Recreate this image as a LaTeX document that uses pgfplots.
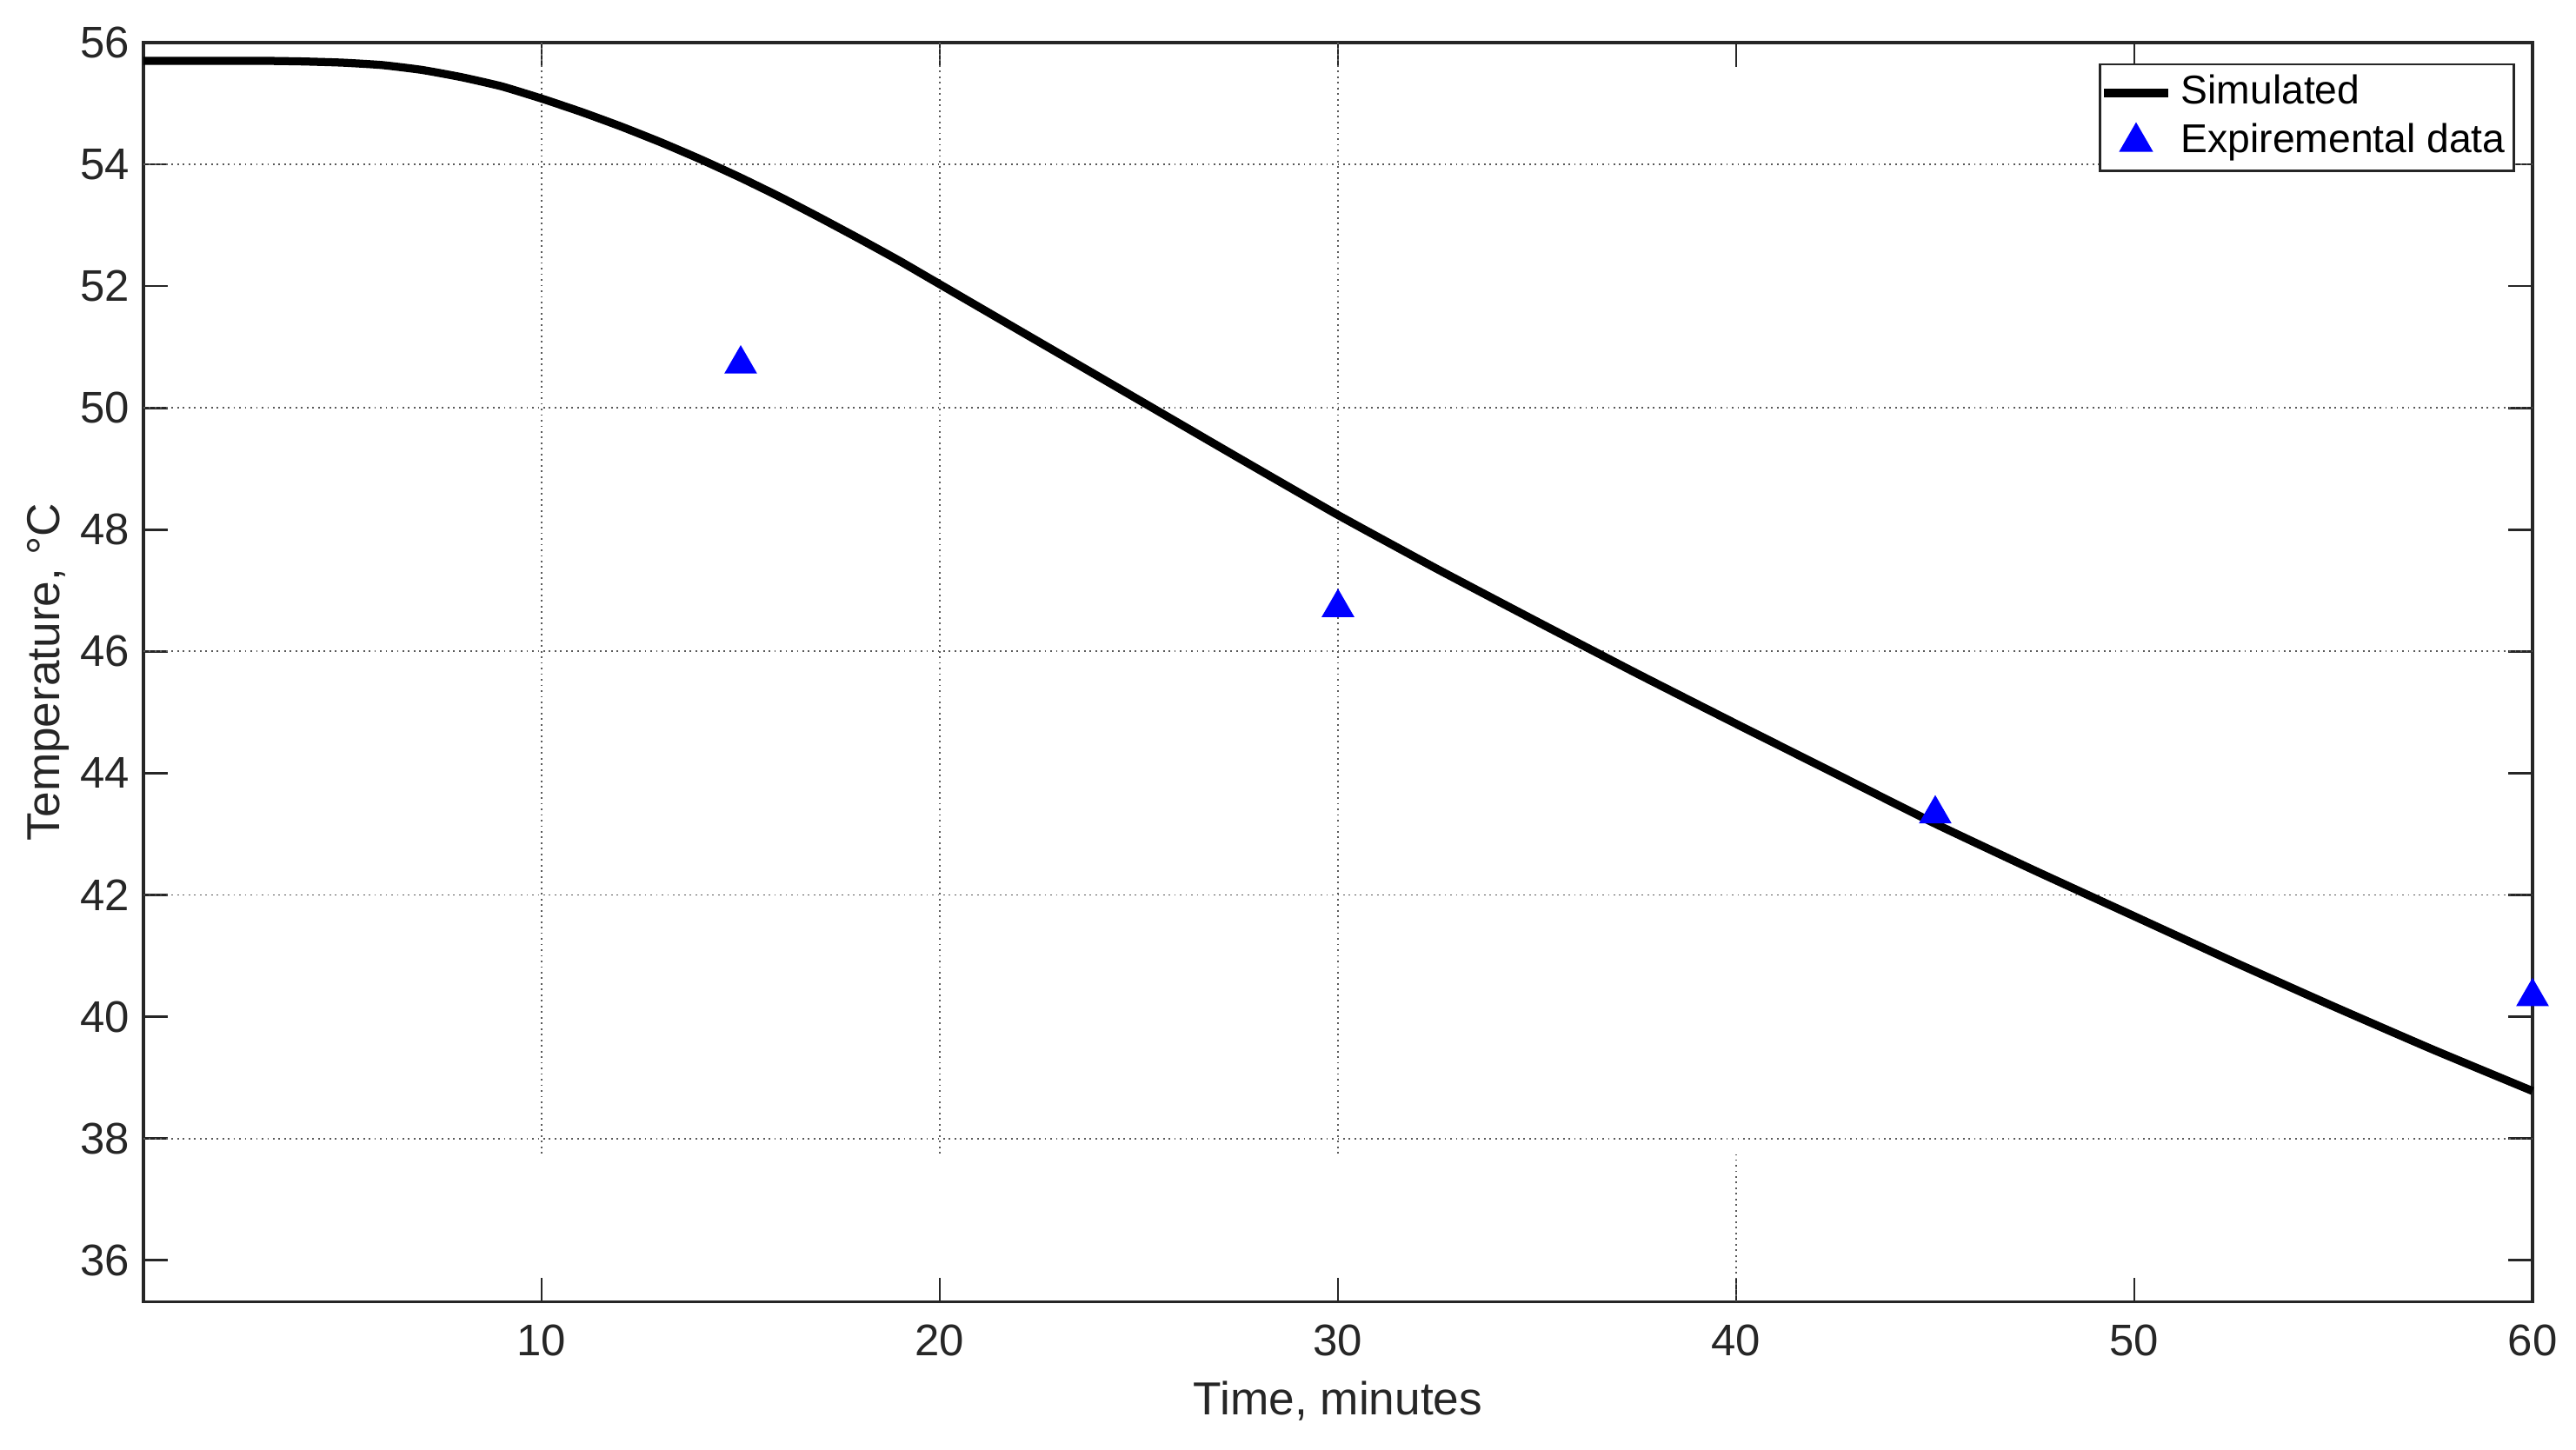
\documentclass[border=0pt]{standalone}
\usepackage{fontspec}
\setmainfont{Liberation Sans}
\usepackage{pgfplots}
\pgfplotsset{compat=1.18}
\definecolor{axgray}{HTML}{262626}
\definecolor{mblue}{HTML}{0000FF}
\pgfplotsset{
  simline/.style={legend image code/.code={\draw[##1] (0cm,0cm) -- (0.56cm,0cm);}},
  simmark/.style={legend image code/.code={
    \draw[mark repeat=2, mark phase=2, ##1] plot coordinates {(0cm,0cm) (0.28cm,0cm) (0.56cm,0cm)};}},
}
\tikzset{gridln/.style={black!65, densely dotted, line width=0.4pt}}
\begin{document}
\fontsize{10pt}{12pt}\selectfont
\begin{tikzpicture}
\begin{axis}[
  scale only axis,
  width=20.87cm, height=11.0cm,
  xmin=0, xmax=60, ymin=35.32, ymax=56,
  xtick={10,20,30,40,50,60},
  ytick={36,38,...,56},
  tick align=inside, tick pos=both,
  xticklabel pos=lower, yticklabel pos=left,
  major tick length=0.21cm,
  axis line style={axgray, line width=0.7pt},
  every tick/.style={axgray, line width=0.6pt},
  tick label style={font=\fontsize{11pt}{13pt}\selectfont, text=axgray},
  xticklabel style={yshift=-0.08cm},
  yticklabel style={xshift=0cm},
  /pgf/number format/assume math mode=true,
  xlabel={Time, minutes},
  ylabel={Temperature, °C},
  label style={font=\fontsize{11.5pt}{13pt}\selectfont, text=axgray},
  xlabel style={at={(axis description cs:0.5,-0.0786)}, anchor=center},
  ylabel style={at={(axis description cs:-0.0398,0.5)}, anchor=center},
  clip=false,
  legend cell align=left,
  legend style={at={(1,1)}, anchor=north east, xshift=-0.15cm, yshift=-0.18cm,
    draw=axgray, line width=0.6pt, fill=white,
    font=\fontsize{10pt}{12pt}\selectfont,
    inner xsep=0pt, inner ysep=1pt, row sep=0pt,
    nodes={inner xsep=2.2pt, inner ysep=1.4pt, text height=0.26cm, text depth=0.07cm}},
]
% grid as it appears in the figure
\draw[gridln] (axis cs:0,38) -- (axis cs:60,38);
\draw[gridln] (axis cs:0,42) -- (axis cs:60,42);
\draw[gridln] (axis cs:0,46) -- (axis cs:60,46);
\draw[gridln] (axis cs:0,50) -- (axis cs:60,50);
\draw[gridln] (axis cs:0,54) -- (axis cs:60,54);
\draw[gridln] (axis cs:10,56) -- (axis cs:10,37.74);
\draw[gridln] (axis cs:20,56) -- (axis cs:20,37.74);
\draw[gridln] (axis cs:30,56) -- (axis cs:30,37.74);
\draw[gridln] (axis cs:40,35.32) -- (axis cs:40,37.74);

% simulated
\addplot[black, line width=2pt, smooth, tension=0.3, simline]
  coordinates {
  (0,55.70) (2,55.70) (3,55.70) (4,55.69) (5,55.67) (6,55.63) (7,55.55)
  (8,55.43) (9,55.28) (10,55.08) (11,54.86) (12,54.62) (13,54.36)
  (14,54.08) (15,53.78) (16,53.46) (17,53.12) (18,52.77) (19,52.41)
  (20,52.03) (22.5,51.08) (25,50.13) (27.5,49.18) (30,48.24) (32.5,47.35)
  (35,46.49) (37.5,45.64) (40,44.81) (42.5,43.99) (45,43.17) (47.5,42.40)
  (50,41.65) (52.5,40.90) (55,40.17) (57.5,39.46) (60,38.78)
  };
\addlegendentry{Simulated}

% experimental
\addplot[only marks, mark=triangle*, mark size=4.3pt, color=mblue, simmark]
  coordinates {(15,50.72) (30,46.72) (45,43.33) (60,40.33)};
\addlegendentry{Expiremental data}
\end{axis}
\path ([shift={(-1.253cm,-1.29cm)}]current axis.south west) rectangle ([shift={(0.38cm,0.372cm)}]current axis.north east);
\end{tikzpicture}
\end{document}
